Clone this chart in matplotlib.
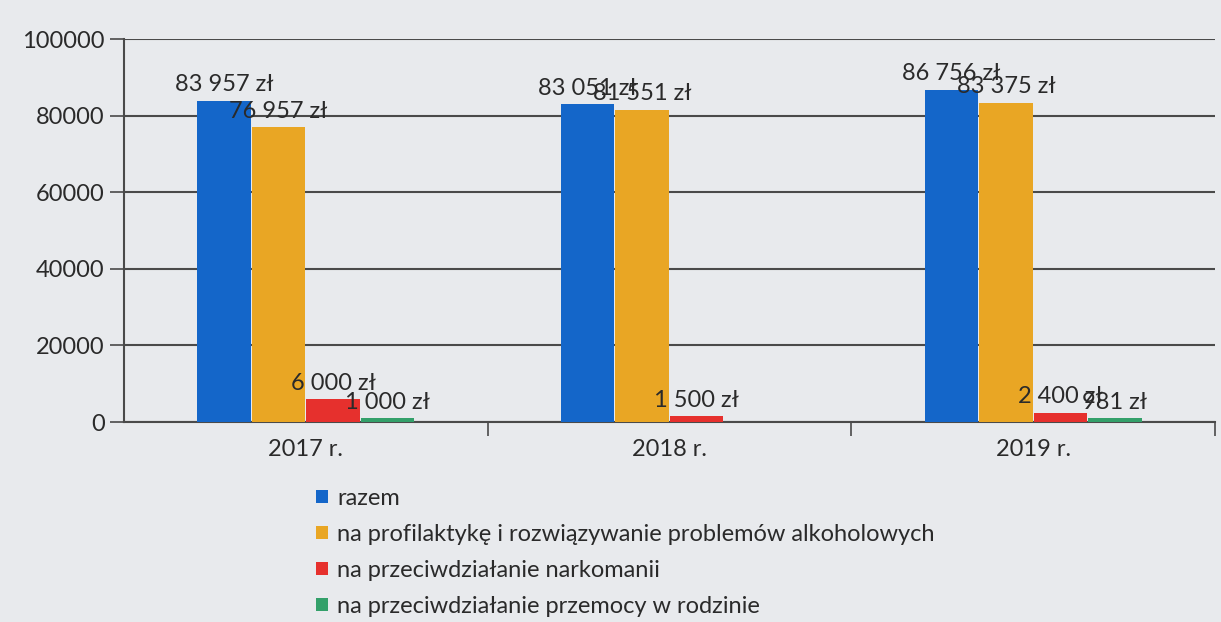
import numpy as np
import matplotlib
matplotlib.use("Agg")
import matplotlib.pyplot as plt
from matplotlib.ticker import FixedLocator
from matplotlib.patches import Patch

# dane z wykresu
lata = ["2017 r.", "2018 r.", "2019 r."]
razem = [83957, 83051, 86756]
alkohol = [76957, 81551, 83375]
narkomania = [6000, 1500, 2400]
przemoc = [1000, 0, 981]

serie = ["razem",
         "na profilaktykę i rozwiązywanie problemów alkoholowych",
         "na przeciwdziałanie narkomanii",
         "na przeciwdziałanie przemocy w rodzinie"]
kolory = ["#1466c9", "#e9a624", "#e6302d", "#33a06a"]

plt.rcParams['font.family'] = ['Lato', 'DejaVu Sans']

tlo = "#e8eaed"
fig = plt.figure(figsize=(12.21, 6.22), dpi=100, facecolor=tlo)
ax = fig.add_axes([0.1016, 0.3215, 0.8934, 0.6155])
ax.set_facecolor(tlo)

x = np.arange(len(lata))
w = 0.15
dane = [razem, alkohol, narkomania, przemoc]


def fmt(v):
    return f"{v:,}".replace(",", " ") + " zł"


for i, (vals, kol) in enumerate(zip(dane, kolory)):
    pos = x + (i - 1.5) * w
    ax.bar(pos, vals, width=w * 0.98, color=kol, zorder=3)
    for p, v in zip(pos, vals):
        if v > 0:
            ax.annotate(fmt(v), (p, v), xytext=(0, 4), textcoords="offset points",
                        ha="center", va="bottom", fontsize=17, color="#2a2a2a", zorder=4)

ax.set_xlim(-0.5, 2.5)
ax.set_ylim(0, 100000)
ax.set_yticks(np.arange(0, 100001, 20000))
ax.set_yticklabels([str(v) for v in range(0, 100001, 20000)], fontsize=17, color="#2a2a2a")
ax.yaxis.grid(True, color="#4a4a4a", linewidth=1.5, zorder=0)
ax.tick_params(axis="y", length=10, width=1.2, color="#4a4a4a", pad=4)

ax.set_xticks(x)
ax.set_xticklabels(lata, fontsize=17, color="#2a2a2a")
ax.tick_params(axis="x", which="major", length=0, pad=12)
ax.xaxis.set_minor_locator(FixedLocator([0.5, 1.5, 2.5]))
ax.tick_params(axis="x", which="minor", length=10, width=1.2, color="#4a4a4a")

for s in ["top", "right"]:
    ax.spines[s].set_visible(False)
ax.spines["left"].set_color("#4a4a4a")
ax.spines["left"].set_linewidth(1.5)
ax.spines["bottom"].set_color("#4a4a4a")
ax.spines["bottom"].set_linewidth(1.5)

uchwyty = [Patch(facecolor=k, label=s) for k, s in zip(kolory, serie)]
fig.legend(handles=uchwyty, loc="upper left", bbox_to_anchor=(0.259, 0.216),
           frameon=False, fontsize=17, handlelength=0.5, handleheight=0.5,
           handletextpad=0.4, labelspacing=0.64, borderaxespad=0, borderpad=0,
           labelcolor="#2a2a2a")

fig.savefig("out.png", dpi=100, facecolor=tlo)
